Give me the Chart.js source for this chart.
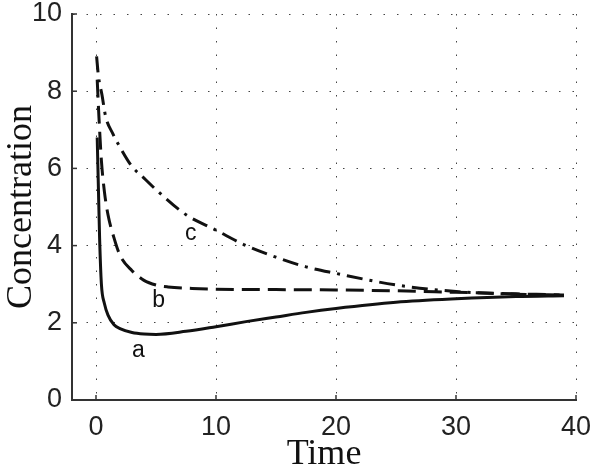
<!DOCTYPE html>
<html>
<head>
<meta charset="utf-8">
<script src="https://cdn.jsdelivr.net/npm/chart.js@4.4.0/dist/chart.umd.min.js"></script>
<style>
  html,body{margin:0;padding:0;background:#fff;}
  #wrap{width:600px;height:476px;position:relative;}
</style>
</head>
<body>
<div id="wrap"><canvas id="c"></canvas></div>
<script>
// curve a (solid)
const aTime=[0.1,0.2,0.3,0.45,0.7,1,1.5,2,3,4,5,7.5,10,12.5,15,17.5,20,25,30,35,39];
const aConc=[6.8,5.5,4.2,3.0,2.5,2.2,1.95,1.85,1.75,1.71,1.7,1.78,1.9,2.03,2.15,2.27,2.37,2.53,2.62,2.68,2.7];
// curve b (dashed)
const bTime=[0.1,0.25,0.45,0.7,1,1.5,2,3,4,5,6,8,10,15,20,25,30,35,39];
const bConc=[8.3,7.3,6.2,5.4,4.8,4.2,3.75,3.35,3.1,2.98,2.93,2.89,2.87,2.86,2.85,2.83,2.79,2.75,2.72];
// curve c (dash-dot)
const cTime=[0.05,0.2,0.5,0.8,1.4,2,3,4,5,7.5,10,12.5,15,17.5,20,25,30,35,39];
const cConc=[8.9,8.4,7.9,7.35,6.9,6.55,6.05,5.75,5.45,4.8,4.4,4.0,3.7,3.45,3.28,2.98,2.81,2.74,2.72];

const xTicks=[0,10,20,30,40];
const yTicks=[0,2,4,6,8,10];

// curve labels
const labelText=['a','b','c'];
const labelX=[3.54,5.23,7.9];
const labelY=[1.11,2.42,4.15];

const pts=(xs,ys)=>xs.map((x,i)=>({x,y:ys[i]}));

const lineDs=(label,xs,ys,dash)=>({
  label,data:pts(xs,ys),borderColor:'#111',borderWidth:3,borderDash:dash,
  pointRadius:0,fill:false,cubicInterpolationMode:'monotone',borderCapStyle:'butt'
});

// inward tick marks + curve labels
const extras={
  id:'extras',
  afterDatasetsDraw(chart){
    const {ctx,scales:{x,y},chartArea:ca}=chart;
    ctx.save();
    ctx.strokeStyle='#333';ctx.lineWidth=1.5;
    xTicks.forEach(v=>{const px=x.getPixelForValue(v);ctx.beginPath();ctx.moveTo(px,ca.bottom);ctx.lineTo(px,ca.bottom-5);ctx.stroke();});
    yTicks.forEach(v=>{const py=y.getPixelForValue(v);ctx.beginPath();ctx.moveTo(ca.left,py);ctx.lineTo(ca.left+5,py);ctx.stroke();});
    ctx.fillStyle='#111';ctx.font='23px "Liberation Sans", Arial, sans-serif';
    ctx.textAlign='center';ctx.textBaseline='alphabetic';
    labelText.forEach((t,i)=>ctx.fillText(t,x.getPixelForValue(labelX[i]),y.getPixelForValue(labelY[i])));
    ctx.restore();
  }
};

const noPad=s=>{s.paddingTop=0;s.paddingBottom=0;s.paddingLeft=0;s.paddingRight=0;};

new Chart(document.getElementById('c'),{
  type:'line',
  data:{datasets:[
    lineDs('a',aTime,aConc,[]),
    lineDs('b',bTime,bConc,[18,8]),
    lineDs('c',cTime,cConc,[16,7,3,7]),
  ]},
  options:{
    responsive:true,maintainAspectRatio:false,animation:false,
    layout:{padding:{top:14,right:24,left:0,bottom:0}},
    plugins:{legend:{display:false},tooltip:{enabled:false}},
    scales:{
      x:{
        type:'linear',min:-2,max:40,
        afterBuildTicks:s=>{s.ticks=xTicks.map(v=>({value:v}));},
        afterFit:s=>{s.height=76;noPad(s);},
        grid:{color:'#444',lineWidth:1,drawTicks:false},
        border:{display:true,color:'#333',width:2,dash:[1.5,12]},
        ticks:{color:'#222',padding:11,font:{family:'"Liberation Sans", Arial, sans-serif',size:27},maxRotation:0},
        title:{display:true,text:'Time',color:'#111',padding:0,font:{family:'"Liberation Serif", "Times New Roman", serif',size:36}}
      },
      y:{
        type:'linear',min:0,max:10,
        afterBuildTicks:s=>{s.ticks=yTicks.map(v=>({value:v}));},
        afterFit:s=>{s.width=72;noPad(s);},
        grid:{color:'#444',lineWidth:1,drawTicks:false},
        border:{display:true,color:'#333',width:2,dash:[1.5,12]},
        ticks:{color:'#222',padding:10,font:{family:'"Liberation Sans", Arial, sans-serif',size:27}},
        title:{display:true,text:'Concentration',color:'#111',padding:0,font:{family:'"Liberation Serif", "Times New Roman", serif',size:36}}
      }
    }
  },
  plugins:[extras]
});
</script>
</body>
</html>
